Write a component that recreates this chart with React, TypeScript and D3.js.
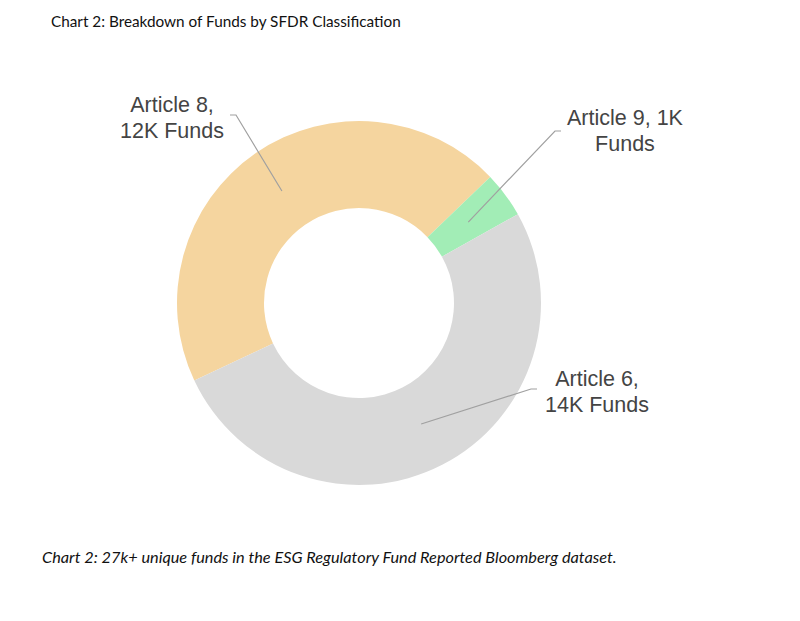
import { useEffect, useRef } from "react"
import * as d3 from "d3"

const categories = ["Article 8", "Article 9", "Article 6"]
const fundsK = [12.1, 1.1, 13.8]
const labelLines = [["Article 8,", "12K Funds"], ["Article 9, 1K", "Funds"], ["Article 6,", "14K Funds"]]
const colors = ["#f5d59f", "#a2edb6", "#d9d9d9"]

const W = 800, H = 621
const cx = 359, cy = 303, R = 182, r0 = 95
// label anchor (text center x, first baseline y) and leader elbow
const labelPos = [
  { x: 172, y: 112, elbow: [[230, 115], [236, 115]] },
  { x: 625, y: 125, elbow: [[561, 131], [555, 131]] },
  { x: 597, y: 386, elbow: [[537, 389], [531, 389]] },
]

export default function App() {
  const ref = useRef<SVGSVGElement>(null)
  useEffect(() => {
    if (!ref.current) return
    const svg = d3.select(ref.current)
    svg.selectAll("*").remove()
    svg.append("rect").attr("width", W).attr("height", H).attr("fill", "#fff")

    svg.append("text").attr("x", 51).attr("y", 27)
      .style("font-family", "Lato, 'Open Sans', sans-serif").style("font-size", "15.3px").style("fill", "#111")
      .text("Chart 2: Breakdown of Funds by SFDR Classification")

    const data = categories.map((c, i) => ({ c, v: fundsK[i], i }))
    const pie = d3.pie<{ c: string; v: number; i: number }>().value(d => d.v).sort(null)
      .startAngle(-115.2 * Math.PI / 180).endAngle((360 - 115.2) * Math.PI / 180)
    const arcs = pie(data)
    const arc = d3.arc<d3.PieArcDatum<{ c: string; v: number; i: number }>>().innerRadius(r0).outerRadius(R)
    const g = svg.append("g").attr("transform", `translate(${cx},${cy})`)
    g.selectAll("path").data(arcs).join("path").attr("d", arc).attr("fill", d => colors[d.data.i])

    const lines = svg.append("g")
    arcs.forEach((a, i) => {
      const lp = labelPos[i]
      const mid = (a.startAngle + a.endAngle) / 2
      const rr = 136
      const end: [number, number] = [cx + Math.sin(mid) * rr, cy - Math.cos(mid) * rr]
      const pts: [number, number][] = [lp.elbow[0] as [number, number], lp.elbow[1] as [number, number], end]
      lines.append("path").attr("d", d3.line()(pts))
        .attr("fill", "none").attr("stroke", "#a0a0a0").attr("stroke-width", 1.2)
      const t = svg.append("text").attr("text-anchor", "middle")
        .style("font-family", "'Liberation Sans', Arial, sans-serif").style("font-size", "21.5px").style("fill", "#444")
      labelLines[i].forEach((s, k) => t.append("tspan").attr("x", lp.x).attr("y", lp.y + k * 25.5).text(s))
    })

    svg.append("text").attr("x", 42).attr("y", 563)
      .style("font-family", "Lato, 'Open Sans', sans-serif").style("font-style", "italic").style("font-size", "16.3px").style("fill", "#111")
      .text("Chart 2: 27k+ unique funds in the ESG Regulatory Fund Reported Bloomberg dataset.")
  }, [])
  return <svg ref={ref} width={W} height={H} style={{ display: "block", margin: -8 }} />
}
